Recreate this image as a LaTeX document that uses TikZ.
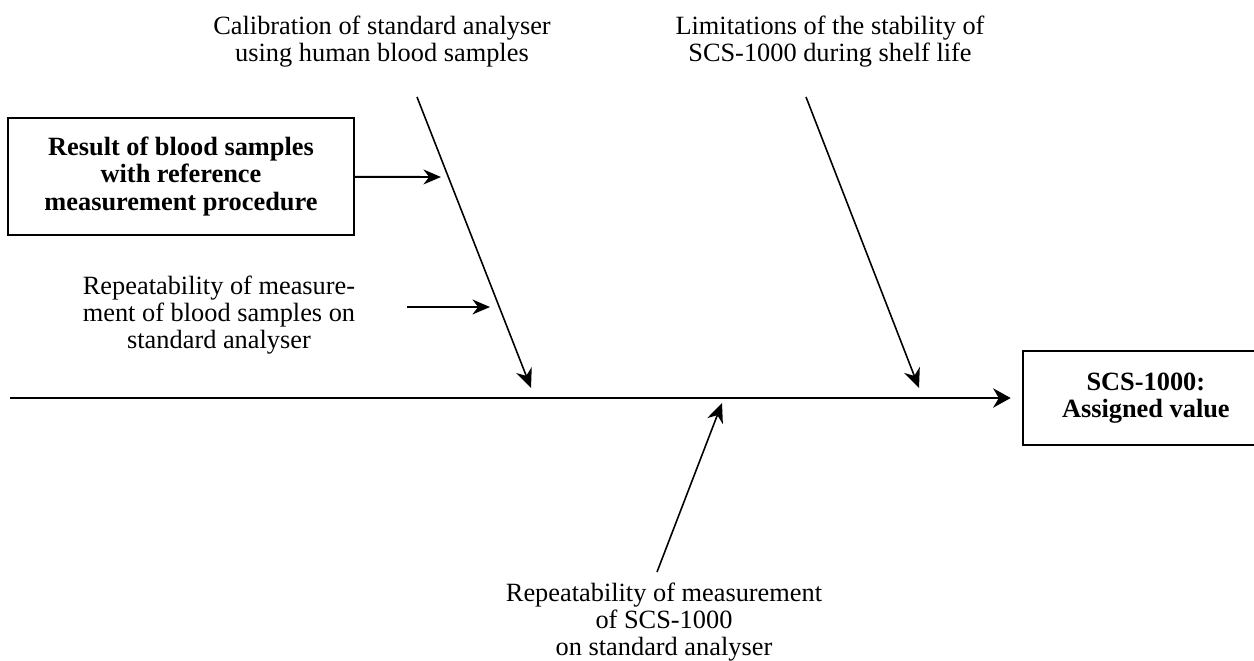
\documentclass[tikz,border=0pt]{standalone}
\usepackage{fontspec}
\setmainfont{Liberation Serif}
\usetikzlibrary{positioning, arrows.meta}

\begin{document}
\begin{tikzpicture}[x = 0.02cm, y = -0.02cm, line width = 0.9pt,
  cause/.style={align = center, inner sep = 0pt, font = \fontsize{15}{15.4}\selectfont},
  box/.style={rectangle, draw, line width = 1pt, align = center, font = \fontsize{15}{15.4}\selectfont\bfseries},
  bone/.style={-{Stealth[length = 11pt, width = 9.5pt]}},
  feed/.style={-{Stealth[length = 10pt, width = 8.5pt]}, line width = 1.1pt},
  spine/.style={-{Stealth[length = 10pt, width = 11pt]}, line width = 1.4pt}]
  \useasboundingbox (0,0) rectangle (1254,660);

  % nodes
  \node [box, minimum width = 6.92cm, minimum height = 2.34cm] (result) at (181,176.5) {Result of blood samples\\with reference\\measurement procedure};
  \node [box, draw = none, anchor = west, minimum width = 4.88cm, minimum height = 1.84cm] (assigned) at (1023,398) {SCS-1000:\\Assigned value};
  \draw [line width = 1pt] (assigned.north west) ++(260,0) -- (assigned.north west) -- (assigned.south west) -- ++(260,0);

  \node [cause] (calib) at (382,41.5) {Calibration of standard analyser\\using human blood samples};
  \node [cause] (limits) at (830,41.5) {Limitations of the stability of\\SCS-1000 during shelf life};
  \node [cause] (repblood) at (219,315) {Repeatability of measure-\\ment of blood samples on\\standard analyser};
  \node [cause] (repscs) at (664,622) {Repeatability of measurement\\of SCS-1000\\on standard analyser};

  % bone ends
  \coordinate (calibtop) at (417,97);
  \coordinate (calibend) at (531,388);
  \coordinate (limtop) at (806,97);
  \coordinate (limend) at (919,388);
  \coordinate (scsbot) at (657,572);
  \coordinate (scsend) at (722,403);
  \coordinate (tail) at (10,398);
  \coordinate (hit1) at (441,177);
  \coordinate (repstart) at (407,307);
  \coordinate (hit2) at (490,307);

  % edges
  \draw [spine, shorten > = 7] (tail) -- (assigned.west);
  \draw [bone] (calibtop) -- (calibend);
  \draw [bone] (limtop) -- (limend);
  \draw [bone] (scsbot) -- (scsend);
  \draw [feed] (result) -- (hit1);
  \draw [feed] (repstart) -- (hit2);
\end{tikzpicture}
\end{document}
